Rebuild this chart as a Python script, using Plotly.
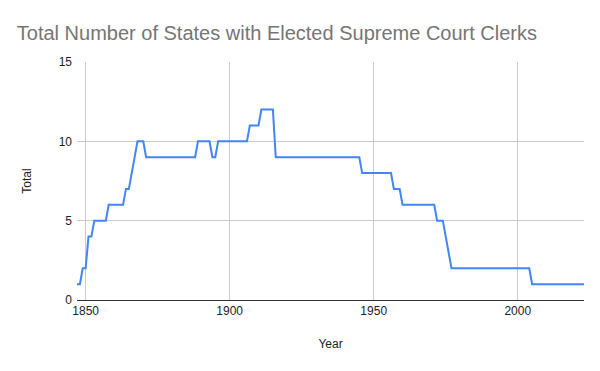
import plotly.graph_objects as go

years = [1847, 1848, 1849, 1850, 1851, 1852, 1853, 1857, 1858, 1863, 1864, 1865,
         1866, 1867, 1868, 1870, 1871, 1888, 1889, 1893, 1894, 1895, 1896, 1906,
         1907, 1910, 1911, 1915, 1916, 1945, 1946, 1956, 1957, 1959, 1960, 1971,
         1972, 1974, 1975, 1976, 1977, 2004, 2005, 2023]
totals = [1, 1, 2, 2, 4, 4, 5, 5, 6, 6, 7, 7,
          8, 9, 10, 10, 9, 9, 10, 10, 9, 9, 10, 10,
          11, 11, 12, 12, 9, 9, 8, 8, 7, 7, 6, 6,
          5, 5, 4, 3, 2, 2, 1, 1]
x_ticks = [1850, 1900, 1950, 2000]
y_ticks = [0, 5, 10, 15]

fig = go.Figure()
fig.add_trace(go.Scatter(x=years, y=totals, mode="lines",
                         line=dict(color="#4285F4", width=2), showlegend=False,
                         hoverinfo="x+y"))

font_family = "Liberation Sans, Arial, sans-serif"
fig.update_layout(
    width=600, height=371,
    margin=dict(l=77, r=16, t=62, b=71),
    paper_bgcolor="white", plot_bgcolor="white",
    font=dict(family=font_family, size=12, color="#222222"),
    title=dict(text="Total Number of States with Elected Supreme Court Clerks",
               x=0.028, xanchor="left", y=0.91, yanchor="middle",
               font=dict(family=font_family, size=20, color="#757575")),
    xaxis=dict(range=[1847, 2023], tickvals=x_ticks, showgrid=True,
               gridcolor="#cccccc", gridwidth=1, zeroline=False,
               showline=True, linecolor="#333333", linewidth=1,
               title=dict(text="Year", standoff=22, font=dict(size=12)),
               tickfont=dict(size=12, color="#222222")),
    yaxis=dict(range=[0, 15], tickvals=y_ticks, showgrid=True,
               gridcolor="#cccccc", gridwidth=1, zeroline=False,
               ticklabelstandoff=4,
               title=dict(text="Total", standoff=24, font=dict(size=12)),
               tickfont=dict(size=12, color="#222222")),
)

fig.write_html("out.html", config={"displayModeBar": False},
               post_script="document.body.style.margin='0';")
